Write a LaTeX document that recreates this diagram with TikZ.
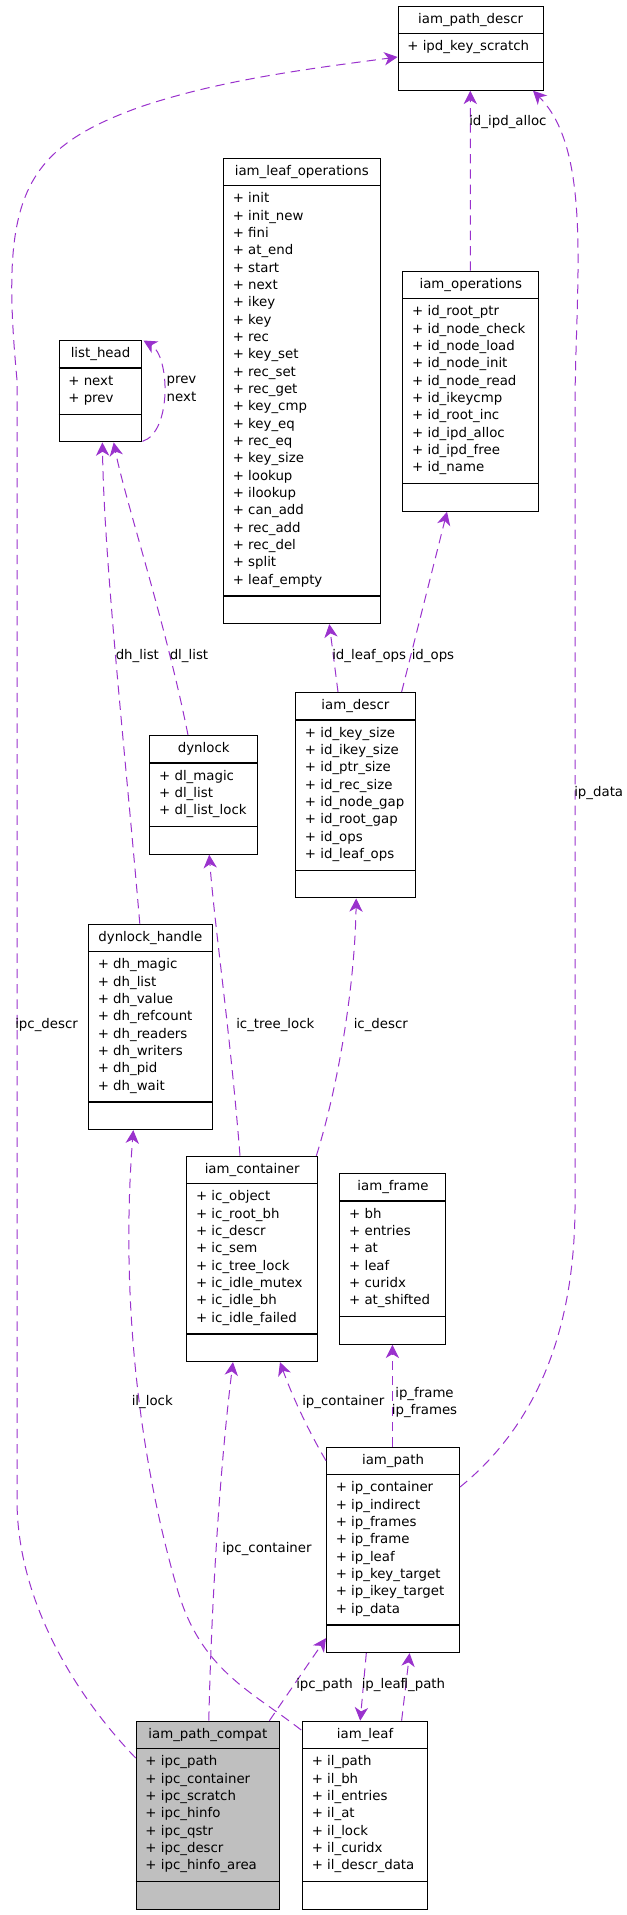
\documentclass[tikz,border=0pt]{standalone}
\usepackage{fontspec}
\setmainfont{DejaVu Sans}
\usetikzlibrary{arrows.meta,calc}
\definecolor{edgec}{HTML}{9A32CD}
\definecolor{gfill}{HTML}{BFBFBF}
\tikzset{
  umlbox/.style={draw=black, line width=0.8pt, inner sep=0pt, anchor=north west},
  sepline/.style={line width=1pt},
  txt/.style={inner sep=0pt, font=\fontsize{10}{13}\selectfont},
  rel/.style={draw=edgec, line width=0.75pt, dash pattern=on 7pt off 4.5pt,
    -{Stealth[length=10pt,width=10pt,inset=3pt]}},
  elabel/.style={txt, anchor=base west},
}
\newcommand{\umlbox}[8][white]{%
  \pgfmathsetmacro{\bh}{84+(#6-1)*17.333}%
  \pgfmathsetmacro{\bw}{#5-#3}%
  \node[umlbox, fill=#1, minimum width=\bw*0.75pt, minimum height=\bh*0.75pt] (#2) at (#3,#4) {};
  \draw[sepline] ($(#2.north west)+(0,28)$) -- ($(#2.north east)+(0,28)$);
  \draw[sepline] ($(#2.south west)+(0,-28)$) -- ($(#2.south east)+(0,-28)$);
  \node[txt, anchor=base] (#2-t) at ($(#2.north)+(0,17.5)$) {#7};
  \foreach \attr [count=\ii from 0] in {#8} {\node[txt, anchor=base west] (#2-a\ii) at ($(#2.north west)+(9.5,45+\ii*17.333)$) {+ \attr};}%
}
\begin{document}
\begin{tikzpicture}[x=0.75pt,y=-0.75pt]
\useasboundingbox (0,0) rectangle (626,1915);

\umlbox{pd}{397.6}{5.7}{542.6}{1}{iam\_path\_descr}{ipd\_key\_scratch}
\umlbox{lo}{223}{157.7}{379.5}{23}{iam\_leaf\_operations}{init, init\_new, fini, at\_end, start, next, ikey, key, rec, key\_set, rec\_set, rec\_get, key\_cmp, key\_eq, rec\_eq, key\_size, lookup, ilookup, can\_add, rec\_add, rec\_del, split, leaf\_empty}
\umlbox{op}{402.4}{270.7}{538.2}{10}{iam\_operations}{id\_root\_ptr, id\_node\_check, id\_node\_load, id\_node\_init, id\_node\_read, id\_ikeycmp, id\_root\_inc, id\_ipd\_alloc, id\_ipd\_free, id\_name}
\umlbox{lh}{58.6}{340}{141.4}{2}{list\_head}{next, prev}
\umlbox{ds}{295.2}{692}{414.5}{8}{iam\_descr}{id\_key\_size, id\_ikey\_size, id\_ptr\_size, id\_rec\_size, id\_node\_gap, id\_root\_gap, id\_ops, id\_leaf\_ops}
\umlbox{dl}{149.4}{735}{257}{3}{dynlock}{dl\_magic, dl\_list, dl\_list\_lock}
\umlbox{dh}{88}{923.7}{211.6}{8}{dynlock\_handle}{dh\_magic, dh\_list, dh\_value, dh\_refcount, dh\_readers, dh\_writers, dh\_pid, dh\_wait}
\umlbox{ic}{186.3}{1155.7}{316.9}{8}{iam\_container}{ic\_object, ic\_root\_bh, ic\_descr, ic\_sem, ic\_tree\_lock, ic\_idle\_mutex, ic\_idle\_bh, ic\_idle\_failed}
\umlbox{fr}{339.4}{1173}{445.4}{6}{iam\_frame}{bh, entries, at, leaf, curidx, at\_shifted}
\umlbox{ip}{326}{1446.7}{459}{8}{iam\_path}{ip\_container, ip\_indirect, ip\_frames, ip\_frame, ip\_leaf, ip\_key\_target, ip\_ikey\_target, ip\_data}
\umlbox[gfill]{pc}{135.7}{1720.7}{279}{7}{iam\_path\_compat}{ipc\_path, ipc\_container, ipc\_scratch, ipc\_hinfo, ipc\_qstr, ipc\_descr, ipc\_hinfo\_area}
\umlbox{lf}{302}{1720.7}{427}{7}{iam\_leaf}{il\_path, il\_bh, il\_entries, il\_at, il\_lock, il\_curidx, il\_descr\_data}

% connectors
\draw[rel] ($(pc.north west)+(0,37.3)$) .. controls (75,1695) and (17,1600) .. (17,1500)
  -- (17,380) .. controls (0,200) and (20,150) .. (140,107)
  .. controls (220,80) and (307,69) .. ($(pd.north west)+(0,51.3)$);
\draw[rel] ($(op.north west)+(67.9,0)$) -- ($(pd.south west)+(72.7,0)$);
\draw[rel] ($(ip.north east)+(0,40.3)$) .. controls (530,1430) and (576,1340) .. (575,1200)
  -- (575,400) .. controls (576,280) and (592,150) .. ($(pd.south east)+(-10.6,0)$);
\draw[rel] ($(lh.south east)+(0,-1)$) .. controls (172,432) and (170,356) .. ($(lh.north east)+(1,0.5)$);
\draw[rel] ($(dh.north west)+(51.8,0)$) .. controls (125,750) and (104,560) .. ($(lh.south west)+(43.8,0)$);
\draw[rel] ($(dl.north west)+(38.6,0)$) .. controls (165,620) and (125,500) .. ($(lh.south west)+(55.1,0)$);
\draw[rel] ($(ds.north west)+(42.8,0)$) -- ($(lo.south west)+(106.3,0)$);
\draw[rel] ($(ds.north west)+(106.4,0)$) -- ($(op.south west)+(44.6,0)$);
\draw[rel] ($(ic.north west)+(53.7,0)$) .. controls (230,1030) and (215,930) .. ($(dl.south west)+(59.8,0)$);
\draw[rel] ($(ic.north east)+(-1.6,0)$) .. controls (340,1080) and (355,980) .. ($(ds.south west)+(61,0)$);
\draw[rel] ($(lf.north west)+(-0.8,9.3)$) .. controls (250,1690) and (200,1670) .. (176.7,1587)
  .. controls (140,1460) and (120,1300) .. ($(dh.south west)+(45.3,0)$);
\draw[rel] ($(pc.north west)+(73.1,0)$) .. controls (212,1580) and (222,1450) .. ($(ic.south west)+(46.7,0)$);
\draw[rel] ($(ip.north west)+(0,14)$) .. controls (305,1425) and (290,1390) .. ($(ic.south west)+(93.7,0)$);
\draw[rel] ($(ip.north west)+(66.4,0)$) -- ($(fr.south west)+(53,0)$);
\draw[rel] ($(pc.north east)+(-10.7,0)$) -- ($(ip.south west)+(0,-15)$);
\draw[rel] ($(ip.south west)+(40.3,0)$) -- ($(lf.north west)+(58.2,0)$);
\draw[rel] ($(lf.north west)+(99.6,0)$) -- ($(ip.south west)+(83.6,0)$);

% labels
\node[elabel] (l1) at (15,1028.5) {ipc\_descr};
\node[elabel] (l2) at (469,126) {id\_ipd\_alloc};
\node[elabel] (l3) at (574,796.5) {ip\_data};
\node[txt, align=center] (l4) at (181.5,389) {prev\\next};
\node[elabel] (l5) at (115.5,659.5) {dh\_list};
\node[elabel] (l6) at (169.5,659.5) {dl\_list};
\node[elabel] (l7) at (332,659.5) {id\_leaf\_ops};
\node[elabel] (l8) at (411.5,659.5) {id\_ops};
\node[elabel] (l9) at (236,1028.5) {ic\_tree\_lock};
\node[elabel] (l10) at (353.5,1028.5) {ic\_descr};
\node[elabel] (l11) at (131.5,1405) {il\_lock};
\node[elabel] (l12) at (302,1405) {ip\_container};
\node[txt, align=center] (l13) at (424.5,1402.5) {ip\_frame\\ip\_frames};
\node[elabel] (l14) at (222,1552) {ipc\_container};
\node[elabel] (l15) at (296,1688.5) {ipc\_path};
\node[elabel] (l16) at (361.5,1688.5) {ip\_leaf};
\node[elabel] (l17) at (400.5,1688.5) {il\_path};
\end{tikzpicture}
\end{document}
